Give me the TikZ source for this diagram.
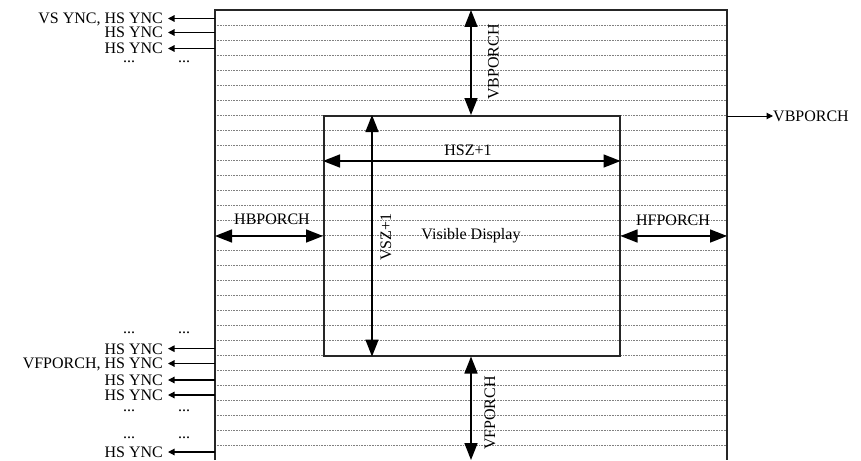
\documentclass[tikz,border=0pt]{standalone}
\usepackage{fontspec}
\setmainfont{Liberation Serif}
\usetikzlibrary{arrows.meta}
\begin{document}
\begin{tikzpicture}[x=1pt,y=-1pt,
  lbl/.style={font=\fontsize{16}{16}\selectfont, inner sep=0pt},
  sglbl/.style={font=\fontsize{16}{16}\selectfont, inner sep=0pt, text height=11pt, text depth=1pt},
  dotlbl/.style={font=\fontsize{16}{16}\selectfont, inner sep=0pt, text height=2pt, text depth=0pt},
  dimarrow/.style={line width=1.7pt, {Triangle[length=17pt,width=13pt]}-{Triangle[length=17pt,width=13pt]}},
  sigarrow/.style={line width=1.2pt, -{Triangle[length=6.5pt,width=6.5pt]}},
  gridline/.style={gray, line width=0.6pt, dash pattern=on 0.7pt off 0.9pt},
  framepath/.style={line width=1.5pt, black!85}]
\useasboundingbox (0,0) rectangle (861,460);
% dotted raster lines
\foreach \k in {1,...,29}
  \draw[gridline] ({215},{10+15*\k}) -- ({727},{10+15*\k});
% outer frame (bottom edge outside picture)
\coordinate (obl) at (215,460);
\coordinate (otl) at (215,10);
\coordinate (otr) at (727,10);
\coordinate (obr) at (727,460);
\draw[framepath] (obl) -- (otl) -- (otr) -- (obr);
% inner visible area
\node[draw, line width=1.5pt, black!85, fill=none, minimum width=296pt, minimum height=240pt,
      inner sep=0pt, anchor=north west] (inner) at (323,115) {};
\node[lbl, anchor=base] (vis) at (471,239) {Visible Display};
% VBPORCH vertical
\coordinate (vbtop) at (471,10);
\draw[dimarrow] (vbtop) -- (vbtop |- inner.north);
\node[lbl, rotate=90, anchor=base] (vbl) at (498.5,62) {VBPORCH};
% VFPORCH vertical
\coordinate (vfbot) at (471,460);
\draw[dimarrow] (vfbot |- inner.south) -- (vfbot);
\node[lbl, rotate=90, anchor=base] (vfl) at (495,413) {VFPORCH};
% VSZ+1
\coordinate (vsx) at (372,0);
\draw[dimarrow] (vsx |- inner.north) -- (vsx |- inner.south);
\node[lbl, rotate=90, anchor=base] (vsl) at (391,237) {VSZ+1};
% HSZ+1
\coordinate (hsy) at (0,161);
\draw[dimarrow] (inner.west |- hsy) -- (inner.east |- hsy);
\node[lbl, anchor=base] (hsl) at (468,155) {HSZ+1};
% HBPORCH / HFPORCH
\coordinate (hby) at (0,236);
\draw[dimarrow] (otl |- hby) -- (inner.west |- hby);
\node[lbl, anchor=base] (hbl) at (272,224.5) {HBPORCH};
\draw[dimarrow] (inner.east |- hby) -- (otr |- hby);
\node[lbl, anchor=base] (hfl) at (673,225.5) {HFPORCH};
% right VBPORCH signal
\coordinate (vbo) at (727,116);
\node[lbl, anchor=base west] (vbr) at (773,121.5) {VBPORCH};
\draw[line width=1pt, -{Triangle[length=6.5pt,width=6.5pt]}] (vbo) -- (vbr.west |- vbo);
% left signals
\foreach \y/\t/\n in {18.5/{VS YNC, HS YNC}/s1, 32.5/{HS YNC}/s2, 48.5/{HS YNC}/s3,
                      348.7/{HS YNC}/s4, 363.5/{VFPORCH, HS YNC}/s5, 380/{HS YNC}/s6,
                      395/{HS YNC}/s7, 452/{HS YNC}/s8} {
  \node[sglbl, anchor=base east] (\n) at (163,{\y+5.4}) {\t};
  \coordinate (\n e) at (215,\y);
  \draw[sigarrow] (\n e) -- ([xshift=5pt]\n.east |- \n e);
}
% ellipsis rows
\foreach \y/\n in {62.5/d1, 333.5/d2, 411.5/d3, 438.5/d4} {
  \node[dotlbl, anchor=base] (\n a) at (129,\y) {...};
  \node[dotlbl, anchor=base] (\n b) at (184,\y) {...};
}
\end{tikzpicture}
\end{document}
